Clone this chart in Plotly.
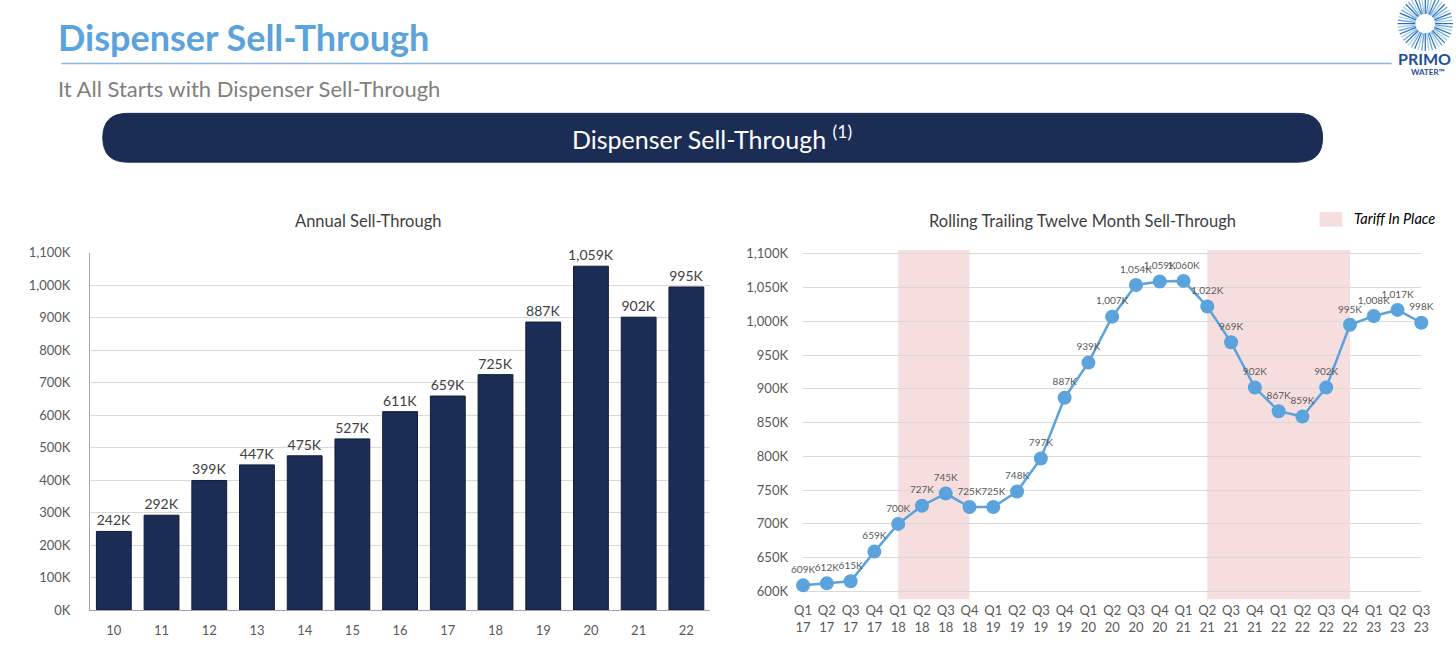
import math
import plotly.graph_objects as go

# ---------------- data ----------------
years = ["10", "11", "12", "13", "14", "15", "16", "17", "18", "19", "20", "21", "22"]
annual_k = [242, 292, 399, 447, 475, 527, 611, 659, 725, 887, 1059, 902, 995]

quarters = ["Q1 17", "Q2 17", "Q3 17", "Q4 17",
            "Q1 18", "Q2 18", "Q3 18", "Q4 18",
            "Q1 19", "Q2 19", "Q3 19", "Q4 19",
            "Q1 20", "Q2 20", "Q3 20", "Q4 20",
            "Q1 21", "Q2 21", "Q3 21", "Q4 21",
            "Q1 22", "Q2 22", "Q3 22", "Q4 22",
            "Q1 23", "Q2 23", "Q3 23"]
ttm_k = [609, 612, 615, 659, 700, 727, 745, 725, 725, 748, 797, 887, 939,
         1007, 1054, 1059, 1060, 1022, 969, 902, 867, 859, 902, 995, 1008, 1017, 998]
tariff_periods = [("Q1 18", "Q4 18"), ("Q2 21", "Q4 22")]

left_ticks = [0, 100, 200, 300, 400, 500, 600, 700, 800, 900, 1000, 1100]
right_ticks = [600, 650, 700, 750, 800, 850, 900, 950, 1000, 1050, 1100]

# ---------------- style ----------------
NAVY = "#1C2D55"
BLUE = "#5BA3DC"
PINK = "#F7DEDE"
GRID = "#D9D9D9"
TXT = "#595959"
FONT = "Lato"

W, H = 1456, 658


def px(x):
    return x / W


def py(y):
    return 1 - y / H


q_labels = [q.replace(" ", "<br>") for q in quarters]

fig = go.Figure()

fig.add_trace(go.Bar(
    x=years, y=annual_k, xaxis="x", yaxis="y",
    marker=dict(color=NAVY, line=dict(color="#111C38", width=1)),
    text=[f"{v:,}K" for v in annual_k], textposition="outside",
    constraintext="none",
    textfont=dict(family=FONT, size=14, color="#404040"),
    cliponaxis=False, showlegend=False,
))

fig.add_trace(go.Scatter(
    x=q_labels, y=ttm_k, xaxis="x2", yaxis="y2",
    mode="lines+markers+text",
    line=dict(color=BLUE, width=2.5),
    marker=dict(color=BLUE, size=14),
    text=[f"{v:,}K" for v in ttm_k], textposition="top center",
    textfont=dict(family=FONT, size=10, color=TXT),
    cliponaxis=False, showlegend=False,
))

shapes = []
for a, b in tariff_periods:
    shapes.append(dict(type="rect", xref="x2", yref="y2 domain",
                       x0=quarters.index(a), x1=quarters.index(b), y0=0, y1=1,
                       fillcolor=PINK, line=dict(width=0), layer="below"))

# header line
shapes.append(dict(type="line", xref="paper", yref="paper",
                   x0=px(53), x1=px(1400), y0=py(57), y1=py(57),
                   line=dict(color="#8DB4E2", width=1.5)))

# rounded banner
x0b, x1b, y0b, y1b, r = 95, 1330, 108, 158, 25
path = (f"M {px(x0b + r)},{py(y0b)} L {px(x1b - r)},{py(y0b)} "
        f"Q {px(x1b)},{py(y0b)} {px(x1b)},{py((y0b + y1b) / 2)} "
        f"Q {px(x1b)},{py(y1b)} {px(x1b - r)},{py(y1b)} "
        f"L {px(x0b + r)},{py(y1b)} "
        f"Q {px(x0b)},{py(y1b)} {px(x0b)},{py((y0b + y1b) / 2)} "
        f"Q {px(x0b)},{py(y0b)} {px(x0b + r)},{py(y0b)} Z")
shapes.append(dict(type="path", xref="paper", yref="paper", path=path,
                   fillcolor=NAVY, line=dict(color=NAVY, width=1)))

# legend swatch
shapes.append(dict(type="rect", xref="paper", yref="paper",
                   x0=px(1327), x1=px(1350), y0=py(224), y1=py(209),
                   fillcolor=PINK, line=dict(width=0)))

# logo sunburst
cx, cy = 1434, 16
for i in range(48):
    ang = 2 * math.pi * i / 48
    r0, r1 = 10, 28
    col = "#2E6DB4" if i % 3 == 0 else ("#5BA3DC" if i % 3 == 1 else "#9CCBEF")
    shapes.append(dict(type="line", xref="paper", yref="paper",
                       x0=px(cx + r0 * math.cos(ang)), y0=py(cy + r0 * math.sin(ang)),
                       x1=px(cx + r1 * math.cos(ang)), y1=py(cy + r1 * math.sin(ang)),
                       line=dict(color=col, width=1.2)))

annotations = [
    dict(text="<b>Dispenser Sell-Through</b>", x=px(48), y=py(30), xref="paper", yref="paper",
         xanchor="left", yanchor="middle", showarrow=False,
         font=dict(family=FONT, size=36, color=BLUE)),
    dict(text="It All Starts with Dispenser Sell-Through", x=px(48), y=py(82), xref="paper", yref="paper",
         xanchor="left", yanchor="middle", showarrow=False,
         font=dict(family=FONT, size=22, color="#7F7F7F")),
    dict(text="Dispenser Sell-Through <sup>(1)</sup>", x=px(712), y=py(133), xref="paper", yref="paper",
         xanchor="center", yanchor="middle", showarrow=False,
         font=dict(family=FONT, size=25, color="white")),
    dict(text="Annual Sell-Through", x=px(363), y=py(218), xref="paper", yref="paper",
         xanchor="center", yanchor="middle", showarrow=False,
         font=dict(family=FONT, size=16.5, color="#404040")),
    dict(text="Rolling Trailing Twelve Month Sell-Through", x=px(1087), y=py(218), xref="paper", yref="paper",
         xanchor="center", yanchor="middle", showarrow=False,
         font=dict(family=FONT, size=16.5, color="#404040")),
    dict(text="<i>Tariff In Place</i>", x=px(1360), y=py(216), xref="paper", yref="paper",
         xanchor="left", yanchor="middle", showarrow=False,
         font=dict(family=FONT, size=14.5, color="#000000")),
    dict(text="<b>PRIMO</b>", x=px(1404), y=py(52), xref="paper", yref="paper",
         xanchor="left", yanchor="middle", showarrow=False,
         font=dict(family=FONT, size=16, color="#1F4E99")),
    dict(text="<b>WATER™</b>", x=px(1418), y=py(66), xref="paper", yref="paper",
         xanchor="left", yanchor="middle", showarrow=False,
         font=dict(family=FONT, size=8, color="#1F4E99")),
]

fig.update_layout(
    width=W, height=H,
    margin=dict(l=0, r=0, t=0, b=0),
    paper_bgcolor="white", plot_bgcolor="white",
    font=dict(family=FONT, color=TXT),
    bargap=0.27,
    shapes=shapes, annotations=annotations,
    xaxis=dict(domain=[px(82), px(710)], type="category", range=[-0.5, 12.5],
               showgrid=False, showline=True, linecolor="#A6A6A6", linewidth=1,
               ticks="", tickfont=dict(family=FONT, size=13, color=TXT),
               ticklabelstandoff=8, fixedrange=True),
    yaxis=dict(domain=[py(617), py(251)], range=[0, 1100], tickvals=left_ticks,
               ticktext=[f"{v:,}K" for v in left_ticks],
               showgrid=True, gridcolor=GRID, gridwidth=1,
               showline=True, linecolor="#A6A6A6", linewidth=1, zeroline=False,
               ticks="", tickfont=dict(family=FONT, size=13, color=TXT),
               ticklabelstandoff=16),
    xaxis2=dict(domain=[px(804), px(1430)], anchor="y2", type="category",
                range=[0, len(quarters) - 1],
                showgrid=False, showline=False, ticks="",
                tickfont=dict(family=FONT, size=13, color=TXT),
                ticklabelstandoff=2),
    yaxis2=dict(domain=[py(606), py(248)], anchor="x2", range=[588.4, 1105.8],
                tickvals=right_ticks, ticktext=[f"{v:,}K" for v in right_ticks],
                showgrid=True, gridcolor=GRID, gridwidth=1, zeroline=False,
                showline=False, ticks="",
                tickfont=dict(family=FONT, size=13, color=TXT),
                ticklabelstandoff=14),
)

fig.write_html(
    "out.html",
    config={"displayModeBar": False},
    post_script=("document.body.style.margin='0px';"
                 "document.body.style.overflow='hidden';"
                 "document.documentElement.style.overflow='hidden';"),
)
